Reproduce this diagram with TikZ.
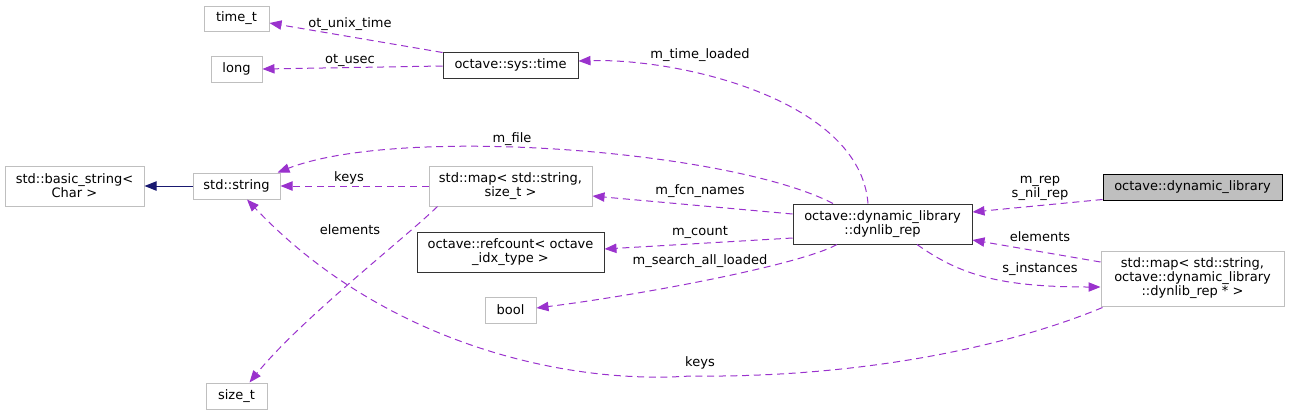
\documentclass[tikz,border=0pt]{standalone}
\usepackage{fontspec}
\setmainfont{DejaVu Sans}
\usetikzlibrary{arrows.meta,calc}
\definecolor{edgepurple}{HTML}{9A32CD}
\definecolor{extgray}{HTML}{BFBFBF}
\definecolor{docfill}{HTML}{BFBFBF}
\definecolor{navy}{HTML}{191970}
\tikzset{
  box/.style={draw=extgray, line width=0.75pt, inner sep=0pt, align=center, font=\fontsize{9.75}{10.5}\selectfont},
  docbox/.style={box, draw=black!80},
  curbox/.style={box, draw=black, fill=docfill},
  rel/.style={draw=edgepurple, line width=0.75pt, dash pattern=on 5.25pt off 3.5pt,
     -{Triangle[length=9pt,width=7pt,fill=edgepurple]}},
  inh/.style={draw=navy, line width=0.75pt, -{Triangle[length=9pt,width=7pt,fill=navy]}},
  lbl/.style={inner sep=0pt, align=center, font=\fontsize{9.75}{10.5}\selectfont},
}
\begin{document}
\begin{tikzpicture}[x=0.75pt,y=-0.75pt]
\useasboundingbox (0,0) rectangle (1289,415);
% nodes
\node[box, minimum width=48.75pt, minimum height=18.75pt] (timet) at (236.5,18.5) {time\_t};
\node[box, minimum width=38.25pt, minimum height=19.5pt] (long) at (236.5,69) {long};
\node[docbox, minimum width=101.25pt, minimum height=19.5pt] (systime) at (510.5,65) {octave::sys::time};
\node[box, minimum width=104.25pt, minimum height=30pt] (basicstring) at (74.5,186) {std::basic\_string\textless\\Char \textgreater};
\node[box, minimum width=65.25pt, minimum height=19.5pt] (stdstring) at (236.5,186) {std::string};
\node[box, minimum width=122.25pt, minimum height=30pt] (mapsize) at (510.5,186) {std::map\textless{} std::string,\\size\_t \textgreater};
\node[docbox, minimum width=140.25pt, minimum height=30pt] (refcount) at (510.5,252) {octave::refcount\textless{} octave\\\_idx\_type \textgreater};
\node[box, minimum width=38.25pt, minimum height=19.5pt] (bool) at (510.5,310) {bool};
\node[box, minimum width=45.75pt, minimum height=19.5pt] (sizet) at (236.5,396) {size\_t};
\node[docbox, minimum width=134.25pt, minimum height=30pt] (dynrep) at (882.5,224) {octave::dynamic\_library\\::dynlib\_rep};
\node[curbox, minimum width=134.25pt, minimum height=19.5pt] (dynlib) at (1192.5,187) {octave::dynamic\_library};
\node[box, minimum width=137.25pt, minimum height=41.25pt] (mapdyn) at (1192.5,278.5) {std::map\textless{} std::string,\\octave::dynamic\_library\\::dynlib\_rep * \textgreater};
% edges
\draw[rel] ($(systime.north west)+(0,1)$) -- ($(timet.east)+(0,4.5)$);
\draw[rel] ($(systime.west)+(0,1)$) -- (long.east);
\draw[rel] ($(dynrep.north)+(-14.5,0)$) .. controls (860,100) and (680,58) .. ($(systime.east)+(0,-4)$);
\draw[rel] ($(dynrep.north)+(-49.5,0)$) .. controls (730,150) and (400,125) .. ($(stdstring.north east)+(-3,0)$);
\draw[inh] (stdstring.west) -- (basicstring.east);
\draw[rel] (mapsize.west) -- (stdstring.east);
\draw[rel] ($(mapsize.south west)+(9,0)$) .. controls (405,238) and (300,320) .. ($(sizet.north)+(13,0)$);
\draw[rel] ($(dynrep.west)+(0,-10)$) -- ($(mapsize.east)+(0,10)$);
\draw[rel] ($(dynrep.west)+(0,14)$) -- ($(refcount.east)+(0,-3)$);
\draw[rel] ($(dynrep.south)+(-45.5,0)$) .. controls (800,265) and (640,295) .. ($(bool.east)+(0,-2)$);
\draw[rel] ($(dynlib.south west)+(0,-1)$) -- ($(dynrep.east)+(0,-12)$);
\draw[rel] ($(mapdyn.west)+(0,-16.5)$) -- ($(dynrep.east)+(0,16)$);
\draw[rel] ($(dynrep.south)+(34.5,0)$) .. controls (960,275) and (1000,287) .. ($(mapdyn.west)+(0,8.5)$);
\coordinate (kb) at (690,376);
\draw[rel] ($(mapdyn.south west)+(2,1)$) .. controls (1000,350) and (850,378) .. (kb) .. controls (560,385) and (380,340) .. ($(stdstring.south)+(10.5,0)$);
% labels
\node[lbl] (l1) at (350,24) {ot\_unix\_time};
\node[lbl] (l2) at (350,60) {ot\_usec};
\node[lbl] (l3) at (700,55) {m\_time\_loaded};
\node[lbl] (l4) at (512,139) {m\_file};
\node[lbl] (l5) at (349,178) {keys};
\node[lbl] (l6) at (350,230) {elements};
\node[lbl] (l7) at (700,191) {m\_fcn\_names};
\node[lbl] (l8) at (700,232) {m\_count};
\node[lbl] (l9) at (700,261) {m\_search\_all\_loaded};
\node[lbl] (l10) at (1040,188) {m\_rep\\s\_nil\_rep};
\node[lbl] (l11) at (1040,237) {elements};
\node[lbl] (l12) at (1040,269) {s\_instances};
\node[lbl] (l13) at (700,363) {keys};
\end{tikzpicture}
\end{document}
